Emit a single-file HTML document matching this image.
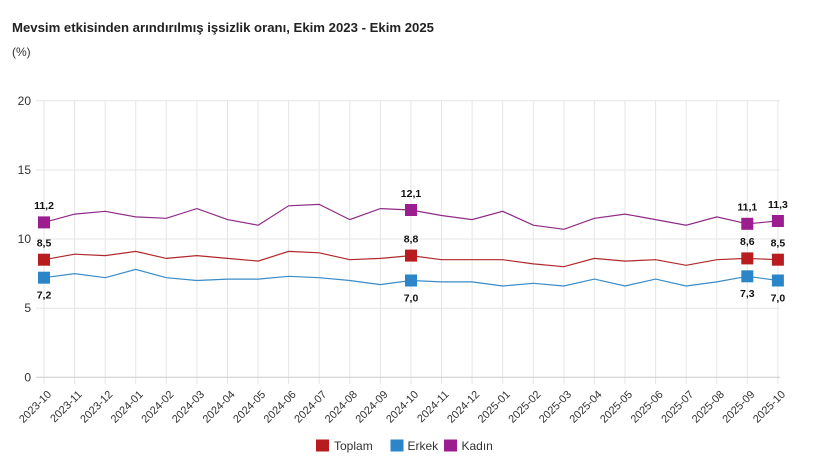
<!DOCTYPE html>
<html><head><meta charset="utf-8">
<style>
html,body{margin:0;padding:0;background:#fff;}
svg{display:block;font-family:"Liberation Sans",sans-serif;}
</style></head>
<body>
<svg width="814" height="467" viewBox="0 0 814 467" xmlns="http://www.w3.org/2000/svg">
<rect width="814" height="467" fill="#fff"/>
<text x="12" y="32" font-size="13" font-weight="bold" fill="#222" textLength="422" lengthAdjust="spacingAndGlyphs">Mevsim etkisinden arındırılmış işsizlik oranı, Ekim 2023 - Ekim 2025</text>
<text x="12" y="56" font-size="12" fill="#333">(%)</text>

<!-- horizontal grid -->
<g stroke="#e6e6e6" stroke-width="1">
<line x1="36" y1="100.7" x2="780" y2="100.7"/>
<line x1="36" y1="170" x2="780" y2="170"/>
<line x1="36" y1="239" x2="780" y2="239"/>
<line x1="36" y1="308.2" x2="780" y2="308.2"/>
</g>
<!-- vertical grid -->
<g stroke="#e6e6e6" stroke-width="1">
<line x1="44" y1="100" x2="44" y2="384"/>
<line x1="74.6" y1="100" x2="74.6" y2="384"/>
<line x1="105.2" y1="100" x2="105.2" y2="384"/>
<line x1="135.7" y1="100" x2="135.7" y2="384"/>
<line x1="166.3" y1="100" x2="166.3" y2="384"/>
<line x1="196.9" y1="100" x2="196.9" y2="384"/>
<line x1="227.5" y1="100" x2="227.5" y2="384"/>
<line x1="258.1" y1="100" x2="258.1" y2="384"/>
<line x1="288.6" y1="100" x2="288.6" y2="384"/>
<line x1="319.2" y1="100" x2="319.2" y2="384"/>
<line x1="349.8" y1="100" x2="349.8" y2="384"/>
<line x1="380.4" y1="100" x2="380.4" y2="384"/>
<line x1="411" y1="100" x2="411" y2="384"/>
<line x1="441.5" y1="100" x2="441.5" y2="384"/>
<line x1="472.1" y1="100" x2="472.1" y2="384"/>
<line x1="502.7" y1="100" x2="502.7" y2="384"/>
<line x1="533.3" y1="100" x2="533.3" y2="384"/>
<line x1="563.9" y1="100" x2="563.9" y2="384"/>
<line x1="594.4" y1="100" x2="594.4" y2="384"/>
<line x1="625" y1="100" x2="625" y2="384"/>
<line x1="655.6" y1="100" x2="655.6" y2="384"/>
<line x1="686.2" y1="100" x2="686.2" y2="384"/>
<line x1="716.8" y1="100" x2="716.8" y2="384"/>
<line x1="747.3" y1="100" x2="747.3" y2="384"/>
<line x1="777.9" y1="100" x2="777.9" y2="384"/>
</g>
<line x1="36" y1="377.3" x2="780" y2="377.3" stroke="#cccccc" stroke-width="1"/>

<!-- y labels -->
<g font-size="12" fill="#333" text-anchor="end">
<text x="31" y="105">20</text>
<text x="31" y="174">15</text>
<text x="31" y="243">10</text>
<text x="31" y="312">5</text>
<text x="31" y="381.5">0</text>
</g>

<!-- x labels -->
<g font-size="11" fill="#333" text-anchor="end">
<text transform="translate(52,395) rotate(-45)">2023-10</text>
<text transform="translate(82.6,395) rotate(-45)">2023-11</text>
<text transform="translate(113.2,395) rotate(-45)">2023-12</text>
<text transform="translate(143.7,395) rotate(-45)">2024-01</text>
<text transform="translate(174.3,395) rotate(-45)">2024-02</text>
<text transform="translate(204.9,395) rotate(-45)">2024-03</text>
<text transform="translate(235.5,395) rotate(-45)">2024-04</text>
<text transform="translate(266.1,395) rotate(-45)">2024-05</text>
<text transform="translate(296.6,395) rotate(-45)">2024-06</text>
<text transform="translate(327.2,395) rotate(-45)">2024-07</text>
<text transform="translate(357.8,395) rotate(-45)">2024-08</text>
<text transform="translate(388.4,395) rotate(-45)">2024-09</text>
<text transform="translate(419,395) rotate(-45)">2024-10</text>
<text transform="translate(449.5,395) rotate(-45)">2024-11</text>
<text transform="translate(480.1,395) rotate(-45)">2024-12</text>
<text transform="translate(510.7,395) rotate(-45)">2025-01</text>
<text transform="translate(541.3,395) rotate(-45)">2025-02</text>
<text transform="translate(571.9,395) rotate(-45)">2025-03</text>
<text transform="translate(602.4,395) rotate(-45)">2025-04</text>
<text transform="translate(633,395) rotate(-45)">2025-05</text>
<text transform="translate(663.6,395) rotate(-45)">2025-06</text>
<text transform="translate(694.2,395) rotate(-45)">2025-07</text>
<text transform="translate(724.8,395) rotate(-45)">2025-08</text>
<text transform="translate(755.3,395) rotate(-45)">2025-09</text>
<text transform="translate(785.9,395) rotate(-45)">2025-10</text>
</g>

<!-- Kadın -->
<polyline fill="none" stroke="#8e2a86" stroke-width="1.2" points="44,222.4 74.6,214.1 105.2,211.3 135.7,216.9 166.3,218.3 196.9,208.6 227.5,219.6 258.1,225.2 288.6,205.8 319.2,204.4 349.8,219.6 380.4,208.6 411,210 441.5,215.5 472.1,219.6 502.7,211.3 533.3,225.2 563.9,229.3 594.4,218.3 625,214.1 655.6,219.6 686.2,225.2 716.8,216.9 747.3,223.8 777.9,221"/>
<!-- Toplam -->
<polyline fill="none" stroke="#b0282b" stroke-width="1.2" points="44,259.7 74.6,254.2 105.2,255.6 135.7,251.4 166.3,258.4 196.9,255.6 227.5,258.4 258.1,261.1 288.6,251.4 319.2,252.8 349.8,259.7 380.4,258.4 411,255.6 441.5,259.7 472.1,259.7 502.7,259.7 533.3,263.9 563.9,266.7 594.4,258.4 625,261.1 655.6,259.7 686.2,265.3 716.8,259.7 747.3,258.4 777.9,259.7"/>
<!-- Erkek -->
<polyline fill="none" stroke="#3a8bc8" stroke-width="1.2" points="44,277.7 74.6,273.6 105.2,277.7 135.7,269.4 166.3,277.7 196.9,280.5 227.5,279.1 258.1,279.1 288.6,276.3 319.2,277.7 349.8,280.5 380.4,284.6 411,280.5 441.5,281.9 472.1,281.9 502.7,286 533.3,283.3 563.9,286 594.4,279.1 625,286 655.6,279.1 686.2,286 716.8,281.9 747.3,276.3 777.9,280.5"/>

<!-- markers -->
<g fill="#9c1d8f">
<rect x="38" y="216.4" width="12" height="12"/>
<rect x="405" y="204" width="12" height="12"/>
<rect x="741.3" y="217.8" width="12" height="12"/>
<rect x="771.9" y="215" width="12" height="12"/>
</g>
<g fill="#b81c1f">
<rect x="38" y="253.7" width="12" height="12"/>
<rect x="405" y="249.6" width="12" height="12"/>
<rect x="741.3" y="252.4" width="12" height="12"/>
<rect x="771.9" y="253.7" width="12" height="12"/>
</g>
<g fill="#2a86c9">
<rect x="38" y="271.7" width="12" height="12"/>
<rect x="405" y="274.5" width="12" height="12"/>
<rect x="741.3" y="270.3" width="12" height="12"/>
<rect x="771.9" y="274.5" width="12" height="12"/>
</g>

<!-- data labels -->
<g font-size="10.5" font-weight="bold" fill="#111" text-anchor="middle">
<text x="44" y="209">11,2</text>
<text x="411" y="197">12,1</text>
<text x="747.3" y="210.5">11,1</text>
<text x="777.9" y="208">11,3</text>
<text x="44" y="246.5">8,5</text>
<text x="411" y="242.5">8,8</text>
<text x="747.3" y="245">8,6</text>
<text x="777.9" y="246.5">8,5</text>
<text x="44" y="298.5">7,2</text>
<text x="411" y="301.5">7,0</text>
<text x="747.3" y="297">7,3</text>
<text x="777.9" y="301.5">7,0</text>
</g>

<!-- legend -->
<rect x="316" y="439.5" width="13" height="12" fill="#b81c1f"/>
<text x="334" y="450" font-size="12" fill="#333">Toplam</text>
<rect x="390.5" y="439.5" width="13" height="12" fill="#2a86c9"/>
<text x="407.5" y="450" font-size="12" fill="#333">Erkek</text>
<rect x="444" y="439.5" width="13" height="12" fill="#9c1d8f"/>
<text x="461.5" y="450" font-size="12" fill="#333">Kadın</text>
</svg>
</body></html>
